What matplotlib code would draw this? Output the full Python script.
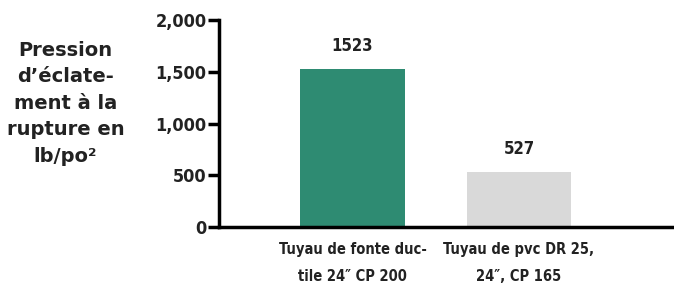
import numpy as np
import matplotlib.pyplot as plt

# burst pressure values
categories = ["Tuyau de fonte duc-\ntile 24\u2033 CP 200", "Tuyau de pvc DR 25,\n24\u2033, CP 165"]
values = [1523, 527]
colors = ["#2e8b72", "#d9d9d9"]
yticks = [0, 500, 1000, 1500, 2000]
ytick_labels = ["0", "500", "1,000", "1,500", "2,000"]

fig = plt.figure(figsize=(6.74, 2.85), dpi=100)
ax = fig.add_axes([0.325, 0.2035, 0.675, 0.726])

x = np.arange(len(values))
ax.bar(x, values, width=0.63, color=colors)
for xi, v in zip(x, values):
    ax.annotate(str(v), (xi, v), xytext=(0, 17), textcoords="offset points",
                ha="center", va="center", fontsize=12, fontweight="bold",
                fontstretch="condensed", color="#222222")

ax.set_xlim(-0.802, 1.931)
ax.set_ylim(0, 2000)
ax.set_yticks(yticks)
ax.set_yticklabels(ytick_labels, fontsize=13, fontweight="bold", fontstretch="condensed",
                   color="#222222")
ax.set_xticks(x)
ax.set_xticklabels(categories, fontsize=10.5, fontweight="bold", fontstretch="condensed",
                   color="#222222", linespacing=2.0)
ax.tick_params(axis="y", length=8, width=2.5, pad=1)
ax.tick_params(axis="x", length=0, pad=11)

for s in ["top", "right"]:
    ax.spines[s].set_visible(False)
ax.spines["left"].set_linewidth(2.5)
ax.spines["bottom"].set_linewidth(2.5)

fig.text(0.097, 0.638, "Pression\nd\u2019\u00e9clate-\nment \u00e0 la\nrupture en\nlb/po\u00b2",
         ha="center", va="center", fontsize=14, fontweight="bold", color="#222222",
         linespacing=1.5)

fig.savefig("out.png", dpi=100)
